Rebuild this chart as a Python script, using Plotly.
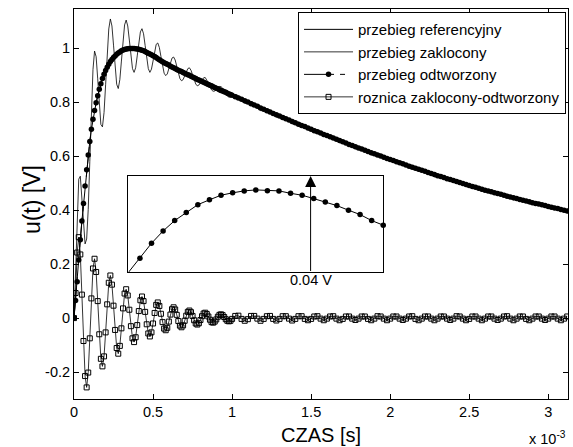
import plotly.graph_objects as go

# ---------------- data (time in units of 1e-3 s) ----------------
t_ms = [round(0.01 * i, 2) for i in range(101)] + [round(1.0 + 0.02 * i, 2) for i in range(1, 107)]

# reference / reconstructed waveform u(t) [V]
u_ref = [
    0.000, 0.065, 0.135, 0.215, 0.290, 0.360, 0.425, 0.490, 0.550, 0.605,
    0.655, 0.700, 0.737, 0.770, 0.798, 0.824, 0.848, 0.869, 0.888, 0.904,
    0.918, 0.930, 0.941, 0.951, 0.959, 0.966, 0.972, 0.978, 0.983, 0.987,
    0.991, 0.994, 0.996, 0.998, 0.999, 1.000, 1.000, 1.000, 1.000, 0.999,
    0.998, 0.997, 0.995, 0.993, 0.991, 0.988, 0.985, 0.982, 0.979, 0.976,
    0.973, 0.970, 0.966, 0.962, 0.958, 0.954, 0.950, 0.947, 0.944, 0.941,
    0.938, 0.934, 0.931, 0.928, 0.925, 0.922, 0.919, 0.916, 0.914, 0.911,
    0.908, 0.905, 0.902, 0.900, 0.897, 0.894, 0.891, 0.888, 0.885, 0.883,
    0.880, 0.877, 0.874, 0.872, 0.869, 0.866, 0.863, 0.861, 0.858, 0.855,
    0.852, 0.850, 0.847, 0.844, 0.842, 0.839, 0.837, 0.834, 0.831, 0.829,
    0.826,
    0.821, 0.816, 0.811, 0.806, 0.801, 0.795, 0.790, 0.785, 0.779, 0.774,
    0.769, 0.764, 0.759, 0.754, 0.749, 0.744, 0.739, 0.734, 0.729, 0.724,
    0.719, 0.714, 0.710, 0.705, 0.700, 0.695, 0.691, 0.686, 0.681, 0.677,
    0.672, 0.668, 0.663, 0.658, 0.654, 0.649, 0.644, 0.640, 0.635, 0.631,
    0.627, 0.622, 0.618, 0.613, 0.609, 0.605, 0.601, 0.596, 0.592, 0.588,
    0.584, 0.580, 0.576, 0.572, 0.568, 0.563, 0.559, 0.556, 0.552, 0.548,
    0.544, 0.540, 0.536, 0.532, 0.528, 0.525, 0.521, 0.517, 0.514, 0.510,
    0.506, 0.503, 0.499, 0.495, 0.492, 0.488, 0.485, 0.481, 0.478, 0.474,
    0.471, 0.468, 0.465, 0.462, 0.459, 0.455, 0.452, 0.449, 0.446, 0.443,
    0.440, 0.437, 0.434, 0.431, 0.428, 0.425, 0.423, 0.420, 0.417, 0.414,
    0.411, 0.408, 0.406, 0.403, 0.400, 0.397,
]

# difference: disturbed - reconstructed [V]
u_diff = [
    0.000, 0.093, 0.243, 0.300, 0.236, 0.087, -0.085, -0.215, -0.257, -0.202,
    -0.075, 0.073, 0.184, 0.220, 0.171, 0.063, -0.060, -0.151, -0.179, -0.142,
    -0.053, 0.051, 0.131, 0.158, 0.124, 0.046, -0.044, -0.111, -0.132, -0.103,
    -0.038, 0.036, 0.091, 0.107, 0.084, 0.031, -0.030, -0.075, -0.089, -0.071,
    -0.026, 0.026, 0.066, 0.080, 0.063, 0.023, -0.023, -0.057, -0.068, -0.053,
    -0.020, 0.019, 0.049, 0.058, 0.045, 0.016, -0.015, -0.039, -0.045, -0.036,
    -0.013, 0.013, 0.033, 0.040, 0.032, 0.012, -0.011, -0.028, -0.034, -0.027,
    -0.010, 0.009, 0.023, 0.028, 0.022, 0.008, -0.008, -0.020, -0.024, -0.019,
    -0.007, 0.007, 0.017, 0.020, 0.015, 0.006, -0.006, -0.015, -0.017, -0.013,
    -0.005, 0.005, 0.012, 0.014, 0.011, 0.004, -0.004, -0.010, -0.012, -0.010,
    -0.003,
    0.008, 0.009, -0.003, -0.010, -0.004, 0.008, 0.008, -0.002, -0.010, -0.003,
    0.007, 0.008, -0.003, -0.009, -0.003, 0.007, 0.007, -0.002, -0.009, -0.003,
    0.007, 0.007, -0.003, -0.008, -0.003, 0.006, 0.007, -0.002, -0.008, -0.002,
    0.006, 0.007, -0.002, -0.008, -0.003, 0.006, 0.006, -0.002, -0.007, -0.002,
    0.006, 0.006, -0.003, -0.008, -0.002, 0.007, 0.006, -0.002, -0.008, -0.002,
    0.006, 0.006, -0.002, -0.007, -0.002, 0.006, 0.007, -0.003, -0.008, -0.002,
    0.006, 0.006, -0.002, -0.008, -0.002, 0.006, 0.006, -0.002, -0.007, -0.002,
    0.007, 0.006, -0.002, -0.008, -0.003, 0.006, 0.006, -0.002, -0.008, -0.002,
    0.006, 0.006, -0.002, -0.007, -0.002, 0.006, 0.007, -0.002, -0.008, -0.002,
    0.006, 0.006, -0.003, -0.008, -0.002, 0.006, 0.006, -0.002, -0.007, -0.002,
    0.006, 0.006, -0.002, -0.008, -0.002, 0.006,
]

n = min(len(t_ms), len(u_ref), len(u_diff))
t_ms, u_ref, u_diff = t_ms[:n], u_ref[:n], u_diff[:n]
u_rec = list(u_ref)                                   # przebieg odtworzony
u_noisy = [r + d for r, d in zip(u_ref, u_diff)]      # przebieg zaklocony

# inset: magnified peak region (box height = 0.04 V)
inset_t = [round(0.26 + 0.01 * i, 2) for i in range(23)]
inset_u = [0.9600, 0.9659, 0.9721, 0.9772, 0.9815, 0.9848, 0.9881, 0.9901,
           0.9920, 0.9930, 0.9938, 0.9942, 0.9939, 0.9938, 0.9928, 0.9920,
           0.9906, 0.9892, 0.9877, 0.9858, 0.9840, 0.9815, 0.9796]
inset_arrow_t = 0.4173
inset_span = [0.96, 1.00]

x_ticks = [0, 0.5, 1, 1.5, 2, 2.5, 3]
x_labels = ["0", "0.5", "1", "1.5", "2", "2.5", "3"]
y_ticks = [-0.2, 0, 0.2, 0.4, 0.6, 0.8, 1]
y_labels = ["-0.2", "0", "0.2", "0.4", "0.6", "0.8", "1"]

FONT = "Liberation Sans, Arial, sans-serif"

fig = go.Figure()
fig.add_trace(go.Scatter(x=t_ms, y=u_ref, mode="lines", name="przebieg referencyjny",
                         line=dict(color="black", width=1), legendgroup="a"))
fig.add_trace(go.Scatter(x=t_ms, y=u_noisy, mode="lines", name="przebieg zaklocony",
                         line=dict(color="black", width=0.8), legendgroup="b"))
fig.add_trace(go.Scatter(x=t_ms, y=u_rec, mode="lines+markers", name="przebieg odtworzony",
                         line=dict(color="black", width=1, dash="30px,6px,5px,30px"),
                         marker=dict(symbol="circle", size=5.5, color="black"), legendgroup="c"))
fig.add_trace(go.Scatter(x=t_ms, y=u_diff, mode="lines+markers", name="roznica zaklocony-odtworzony",
                         line=dict(color="black", width=0.8),
                         marker=dict(symbol="square-open", size=5, color="black",
                                     line=dict(width=1, color="black")), legendgroup="d"))

fig.add_trace(go.Scatter(x=inset_t, y=inset_u, mode="lines", xaxis="x2", yaxis="y2",
                         line=dict(color="black", width=1), showlegend=False))
fig.add_trace(go.Scatter(x=inset_t[1:], y=inset_u[1:], mode="markers", xaxis="x2", yaxis="y2",
                         marker=dict(symbol="circle", size=5.5, color="black"),
                         cliponaxis=False, showlegend=False))

axis_common = dict(showline=True, linecolor="black", linewidth=1, mirror="ticks",
                   ticks="inside", ticklen=5, tickwidth=1, tickcolor="black",
                   showgrid=False, zeroline=False,
                   tickfont=dict(family=FONT, size=14.5, color="black"))

fig.update_layout(
    width=573, height=447,
    margin=dict(l=74, r=5, t=9, b=48),
    paper_bgcolor="white", plot_bgcolor="white",
    font=dict(family=FONT, size=14.5, color="black"),
    xaxis=dict(range=[0, 3.125], tickvals=x_ticks, ticktext=x_labels, domain=[0, 1], **axis_common),
    yaxis=dict(range=[-0.3, 1.146], tickvals=y_ticks, ticktext=y_labels, domain=[0, 1], **axis_common),
    xaxis2=dict(domain=[0.110, 0.626], anchor="y2", range=[inset_t[0], inset_t[-1]],
                showline=True, mirror=True, linecolor="black", linewidth=1.3,
                showticklabels=False, ticks="", showgrid=False, zeroline=False),
    yaxis2=dict(domain=[0.3244, 0.572], anchor="x2", range=inset_span,
                showline=True, mirror=True, linecolor="black", linewidth=1.3,
                showticklabels=False, ticks="", showgrid=False, zeroline=False),
    legend=dict(x=0.996, y=0.992, xanchor="right", yanchor="top",
                bgcolor="white", bordercolor="black", borderwidth=1,
                font=dict(family=FONT, size=15, color="black"),
                itemwidth=49, traceorder="grouped", tracegroupgap=0),
    showlegend=True,
)

fig.add_annotation(text="CZAS [s]", xref="paper", yref="paper", x=0.5, y=-0.0915,
                   showarrow=False, font=dict(family=FONT, size=20), yanchor="middle")
fig.add_annotation(text="u(t) [V]", xref="paper", yref="paper", x=-0.085, y=0.51,
                   textangle=-90, showarrow=False, font=dict(family=FONT, size=23),
                   xanchor="center", yanchor="middle")
fig.add_annotation(text="x 10<sup>-3</sup>", xref="paper", yref="paper", x=1.0, y=-0.099,
                   xanchor="right", yanchor="middle", showarrow=False,
                   font=dict(family=FONT, size=14.5))
fig.add_annotation(x=inset_arrow_t, y=inset_span[1], ax=inset_arrow_t, ay=inset_span[0],
                   xref="x2", yref="y2", axref="x2", ayref="y2", text="",
                   showarrow=True, arrowhead=2, arrowsize=2.2, arrowwidth=1, arrowcolor="black")
fig.add_annotation(text="0.04 V", x=inset_arrow_t, xref="x2", y=0.3057, yref="paper",
                   showarrow=False, xanchor="center", yanchor="middle",
                   font=dict(family=FONT, size=14.5))

fig.write_html("out.html", config={"displayModeBar": False},
               post_script="document.body.style.margin='0';document.body.style.overflow='hidden';")
